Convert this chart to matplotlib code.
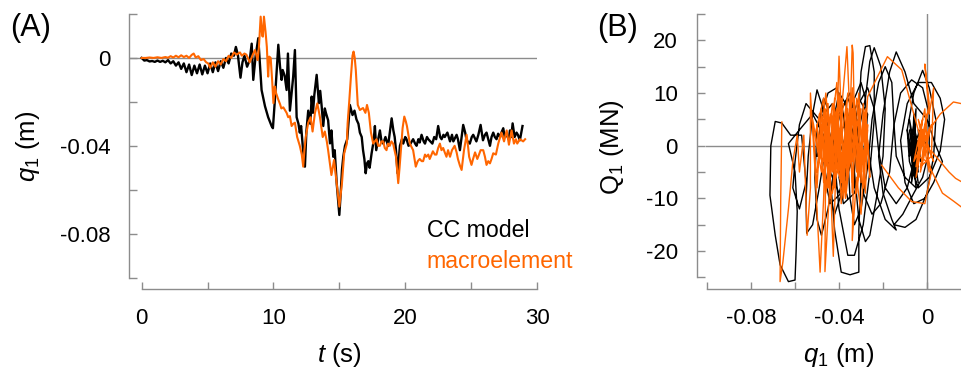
import numpy as np
import matplotlib.pyplot as plt

plt.rcParams['font.family'] = ['Liberation Sans', 'DejaVu Sans']
plt.rcParams['mathtext.fontset'] = 'custom'
plt.rcParams['mathtext.rm'] = 'Liberation Sans'
plt.rcParams['mathtext.it'] = 'Liberation Sans:italic'

ORANGE = '#ff6600'
GREY = '#8c8c8c'

# (A) time histories of q1
cc_t = [0.0, 0.2, 0.4, 0.6, 0.8, 1.0, 1.2, 1.4, 1.6, 1.8, 2.0, 2.2, 2.4, 2.6, 2.8,
        3.0, 3.2, 3.4, 3.6, 3.8, 4.0, 4.2, 4.4, 4.6, 4.8, 5.0, 5.2, 5.4, 5.6, 5.8,
        6.0, 6.2, 6.4, 6.6, 6.8, 7.0, 7.15, 7.3, 7.5, 7.65, 7.8, 8.0, 8.2, 8.35, 8.47,
        8.65, 8.85, 9.1, 9.36, 9.6, 9.86, 9.96, 10.1, 10.37, 10.5, 10.62, 10.7, 10.85,
        11.0, 11.1, 11.25, 11.4, 11.5, 11.63, 11.76, 11.9, 12.0, 12.1, 12.25, 12.39,
        12.5, 12.64, 12.8, 12.9, 13.0, 13.1, 13.28, 13.45, 13.55, 13.66, 13.78, 13.9,
        13.98, 14.15, 14.29, 14.4, 14.54, 14.65, 14.8, 15.0, 15.1, 15.2, 15.3, 15.43,
        15.6, 15.8, 16.0, 16.15, 16.3, 16.45, 16.56, 16.7, 16.8, 16.9, 17.0, 17.1,
        17.2, 17.3, 17.45, 17.6, 17.7, 17.8, 17.95, 18.08, 18.2, 18.33, 18.5, 18.6,
        18.7, 18.85, 18.97, 19.1, 19.2, 19.3, 19.42, 19.6, 19.75, 19.85, 20.0, 20.1,
        20.25, 20.35, 20.5, 20.6, 20.75, 20.86, 21.0, 21.1, 21.24, 21.4, 21.5, 21.65,
        21.75, 21.9, 22.06, 22.2, 22.35, 22.5, 22.65, 22.76, 22.9, 23.0, 23.2, 23.4,
        23.55, 23.65, 23.9, 24.0, 24.15, 24.4, 24.55, 24.66, 24.9, 25.05, 25.16, 25.4,
        25.55, 25.72, 25.9, 26.05, 26.17, 26.3, 26.43, 26.55, 26.68, 26.8, 26.93,
        27.05, 27.2, 27.3, 27.44, 27.55, 27.7, 27.85, 27.95, 28.05, 28.15, 28.3,
        28.45, 28.55, 28.7, 28.9]
cc_q = [0.0, -0.0012, -0.001, -0.0016, -0.0014, -0.0018, -0.0012, -0.0018, -0.0013,
        -0.002, -0.001, -0.0025, -0.0015, -0.0035, -0.002, -0.005, -0.0025, -0.0065,
        -0.003, -0.0078, -0.0035, -0.007, -0.003, -0.0075, -0.0035, -0.007, -0.0025,
        -0.0065, -0.002, -0.006, -0.0015, -0.0045, 0.0, -0.0025, 0.002, 0.001, 0.005,
        0.0015, -0.009, -0.002, 0.001, -0.004, -0.001, 0.0065, -0.01, 0.001, 0.009,
        -0.0146, -0.022, -0.027, -0.031, -0.032, -0.02, 0.006, -0.004, -0.01, -0.0055,
        -0.008, -0.0146, 0.002, -0.024, -0.015, -0.0085, 0.0036, -0.027, -0.03, -0.034,
        -0.031, -0.042, -0.0495, -0.0335, -0.024, -0.03, -0.0176, -0.025, -0.017,
        -0.0077, -0.0206, -0.015, -0.022, -0.031, -0.023, -0.025, -0.0284, -0.0389,
        -0.033, -0.045, -0.042, -0.057, -0.0715, -0.062, -0.051, -0.045, -0.04,
        -0.037, -0.0214, -0.026, -0.024, -0.028, -0.03, -0.034, -0.036, -0.042,
        -0.046, -0.0525, -0.048, -0.047, -0.05, -0.0434, -0.038, -0.031, -0.042,
        -0.037, -0.033, -0.038, -0.039, -0.036, -0.038, -0.04, -0.033, -0.0275,
        -0.033, -0.036, -0.042, -0.0525, -0.04, -0.037, -0.039, -0.036, -0.037,
        -0.04, -0.0395, -0.038, -0.037, -0.039, -0.04, -0.037, -0.0385, -0.035,
        -0.038, -0.039, -0.036, -0.037, -0.038, -0.039, -0.036, -0.037, -0.031,
        -0.036, -0.037, -0.035, -0.036, -0.034, -0.038, -0.035, -0.038, -0.035,
        -0.037, -0.042, -0.0305, -0.034, -0.0375, -0.039, -0.036, -0.035, -0.038,
        -0.035, -0.0305, -0.0375, -0.035, -0.034, -0.037, -0.04, -0.036, -0.034,
        -0.036, -0.037, -0.0345, -0.036, -0.034, -0.032, -0.036, -0.035, -0.037,
        -0.033, -0.036, -0.0298, -0.036, -0.034, -0.035, -0.0375, -0.031]

me_t = [0.0, 0.3, 0.6, 0.9, 1.2, 1.5, 1.8, 2.0, 2.2, 2.4, 2.6, 2.8, 3.0, 3.2, 3.4,
        3.6, 3.8, 3.95, 4.1, 4.3, 4.5, 4.7, 4.9, 5.05, 5.2, 5.4, 5.6, 5.8, 6.0, 6.2,
        6.4, 6.6, 6.8, 7.0, 7.2, 7.46, 7.6, 7.8, 7.95, 8.2, 8.4, 8.6, 8.8, 8.9, 9.03,
        9.15, 9.2, 9.28, 9.4, 9.5, 9.6, 9.68, 9.79, 9.9, 10.0, 10.1, 10.2, 10.37, 10.5,
        10.6, 10.75, 10.87, 11.0, 11.12, 11.25, 11.38, 11.5, 11.63, 11.8, 12.0, 12.15,
        12.26, 12.35, 12.45, 12.64, 12.82, 12.97, 13.15, 13.33, 13.53, 13.74, 13.9,
        14.05, 14.15, 14.4, 14.6, 14.85, 15.0, 15.2, 15.37, 15.57, 15.63, 15.75, 15.88,
        16.0, 16.08, 16.17, 16.25, 16.4, 16.56, 16.8, 16.98, 17.1, 17.24, 17.4, 17.57,
        17.7, 17.82, 17.95, 18.08, 18.2, 18.33, 18.45, 18.58, 18.7, 18.83, 18.95,
        19.08, 19.3, 19.47, 19.57, 19.67, 19.8, 19.93, 20.05, 20.13, 20.35, 20.6,
        20.8, 20.95, 21.1, 21.25, 21.36, 21.5, 21.6, 21.75, 21.86, 22.0, 22.1, 22.25,
        22.37, 22.5, 22.63, 22.75, 22.88, 23.0, 23.13, 23.25, 23.4, 23.55, 23.75,
        23.9, 24.0, 24.15, 24.28, 24.46, 24.66, 24.78, 24.85, 25.03, 25.15, 25.3,
        25.47, 25.6, 25.72, 25.92, 26.05, 26.17, 26.3, 26.43, 26.55, 26.68, 26.88,
        27.06, 27.3, 27.5, 27.7, 27.87, 28.07, 28.25, 28.4, 28.5, 28.7, 28.95, 29.1]
me_q = [0.0, 0.0, 0.0002, 0.0, 0.0003, 0.0, 0.0004, 0.0001, 0.0008, 0.0002, 0.001,
        0.0003, 0.0012, 0.0004, 0.001, 0.0, 0.0014, 0.002, 0.0002, 0.0008, -0.001,
        -0.0005, -0.002, -0.0025, -0.0045, -0.002, -0.004, -0.0015, -0.003, -0.0005,
        -0.0015, 0.001, 0.0, 0.0025, 0.0015, 0.0025, 0.001, 0.002, 0.0015, -0.002,
        0.001, 0.0036, -0.001, 0.005, 0.0188, 0.01, 0.0097, 0.0188, 0.012, 0.005,
        -0.0085, 0.0006, 0.0, -0.01, -0.0206, -0.013, -0.016, -0.019, -0.021, -0.023,
        -0.0225, -0.0237, -0.025, -0.027, -0.0265, -0.031, -0.03, -0.0295, -0.036,
        -0.04, -0.044, -0.0495, -0.042, -0.036, -0.0295, -0.027, -0.0335, -0.025,
        -0.0207, -0.027, -0.036, -0.0335, -0.038, -0.042, -0.0533, -0.0465, -0.06,
        -0.0677, -0.057, -0.0434, -0.039, -0.0297, -0.02, -0.0085, 0.001, 0.0029, 0.0,
        -0.0055, -0.0214, -0.0237, -0.0228, -0.025, -0.0214, -0.025, -0.034, -0.039,
        -0.038, -0.037, -0.04, -0.04, -0.038, -0.038, -0.041, -0.042, -0.039, -0.04,
        -0.038, -0.039, -0.045, -0.057, -0.05, -0.042, -0.032, -0.0267, -0.029,
        -0.031, -0.039, -0.042, -0.0495, -0.047, -0.046, -0.047, -0.047, -0.044,
        -0.045, -0.044, -0.046, -0.044, -0.0425, -0.044, -0.044, -0.041, -0.039,
        -0.042, -0.041, -0.043, -0.045, -0.042, -0.045, -0.042, -0.04, -0.043,
        -0.046, -0.049, -0.051, -0.042, -0.035, -0.041, -0.045, -0.0487, -0.046,
        -0.043, -0.046, -0.044, -0.042, -0.042, -0.045, -0.0487, -0.047, -0.048,
        -0.046, -0.0434, -0.044, -0.039, -0.034, -0.038, -0.033, -0.0395, -0.033,
        -0.039, -0.037, -0.039, -0.037, -0.038, -0.037]

# (B) force-displacement loops (q1 in m, Q1 in MN)
cc_loops_zero = [(0.0, 0), (-0.004, 3), (-0.003, -3), (-0.006, 4), (-0.004, -5),
                 (-0.007, 2), (-0.005, -6), (-0.008, 5), (-0.004, -4), (-0.006, 6),
                 (-0.007, -7), (-0.003, 3), (-0.008, -2), (-0.005, 7), (-0.006, -5),
                 (-0.009, 3), (-0.004, -7), (-0.007, 1), (-0.005, -8), (-0.01, -6),
                 (-0.014, -2), (-0.015, 4), (-0.012, 10), (-0.007, 12.5), (-0.002, 11),
                 (0.001, 6), (0.001, -1), (-0.002, -6), (-0.006, -9), (-0.011, -13),
                 (-0.015, -15), (-0.01, -15.5), (-0.005, -14), (0.0, -9), (0.003, -2),
                 (0.004, 5), (0.001, 11), (-0.002, 14.3), (-0.006, 10), (-0.009, 3),
                 (-0.008, -3), (-0.004, -8), (0.001, -6), (0.006, -1), (0.008, 5),
                 (0.006, 9), (0.002, 12), (-0.004, 12), (-0.009, 8), (-0.012, 1),
                 (-0.01, -7), (-0.006, -11), (-0.001, -10), (0.003, -7), (0.007, -3),
                 (0.004, 0), (0.0, 5), (-0.006, 8), (-0.01, 14), (-0.014, 17.8),
                 (-0.017, 14), (-0.02, 6), (-0.022, -2), (-0.02, -9), (-0.016, -14),
                 (-0.014, -16), (-0.019, -14), (-0.024, -8), (-0.027, 0), (-0.028, 9),
                 (-0.026, 16), (-0.024, 18.6), (-0.021, 15), (-0.019, 7), (-0.02, -2),
                 (-0.023, -10), (-0.026, -17), (-0.028, -18.2), (-0.031, -14),
                 (-0.033, -5), (-0.031, 6), (-0.03, 14), (-0.028, 18.8), (-0.026, 19),
                 (-0.024, 14), (-0.024, 5), (-0.026, -5), (-0.029, -15), (-0.033, -20.8),
                 (-0.036, -20.8), (-0.04, -12), (-0.042, -3), (-0.04, 6), (-0.036, 9),
                 (-0.032, 5), (-0.03, -6), (-0.031, -16), (-0.031, -24), (-0.035, -24.5),
                 (-0.039, -24), (-0.042, -16), (-0.044, -6), (-0.043, 4), (-0.04, 10),
                 (-0.037, 8), (-0.034, 2), (-0.033, -8)]
cc_loops_left = [(-0.036, -10), (-0.04, -4), (-0.044, 2), (-0.048, 8), (-0.05, 10.6),
                 (-0.052, 6), (-0.054, -2), (-0.055, -10), (-0.0547, -16.6),
                 (-0.052, -15), (-0.049, -8), (-0.046, 0), (-0.045, 7), (-0.047, 9),
                 (-0.05, 3), (-0.051, -6), (-0.05, -14), (-0.048, -17), (-0.045, -12),
                 (-0.042, -4), (-0.041, 4), (-0.043, 8), (-0.049, 5), (-0.055, 8),
                 (-0.058, 4), (-0.06, -3), (-0.061, -8), (-0.058, -12), (-0.055, -7),
                 (-0.057, 2), (-0.062, 2), (-0.066, 4.3), (-0.069, 4.6), (-0.071, 0),
                 (-0.0714, -9.4), (-0.069, -17), (-0.0668, -22.6), (-0.063, -25.8),
                 (-0.06, -25.5), (-0.0595, -20), (-0.059, -12.5), (-0.06, -5),
                 (-0.063, 0.4), (-0.058, 3), (-0.052, 6), (-0.047, 2), (-0.044, -5),
                 (-0.04, -9), (-0.036, -3), (-0.033, 4), (-0.035, 10), (-0.039, 7),
                 (-0.043, 0), (-0.046, -7), (-0.044, -11), (-0.039, -9), (-0.035, -4),
                 (-0.031, 3), (-0.028, 9), (-0.03, 12), (-0.034, 8), (-0.037, 0),
                 (-0.04, -6), (-0.038, -11), (-0.033, -9), (-0.029, -2), (-0.027, 6),
                 (-0.031, 9), (-0.036, 3), (-0.041, -3), (-0.047, 4), (-0.05, -2)]
cc_loops_mid = [(-0.05, -2), (-0.048, 6), (-0.045, 10), (-0.041, 11), (-0.038, 6),
                (-0.036, -2), (-0.035, -10), (-0.033, -15), (-0.03, -12), (-0.027, -4),
                (-0.025, 5), (-0.022, 12), (-0.019, 15), (-0.016, 12), (-0.015, 4),
                (-0.017, -5), (-0.021, -11), (-0.025, -13), (-0.029, -9), (-0.032, -1),
                (-0.035, 5), (-0.039, 3), (-0.042, -4), (-0.044, -10), (-0.042, -13),
                (-0.038, -8), (-0.035, 0), (-0.031, 8), (-0.027, 11), (-0.024, 7),
                (-0.022, -1), (-0.019, -8), (-0.014, -11), (-0.009, -8), (-0.006, -3),
                (-0.008, 3), (-0.005, -2), (-0.007, -6), (-0.004, 1), (-0.006, -4)]

me_loops_left = [(-0.066, 4.5), (-0.0665, -10), (-0.0668, -25.8), (-0.0655, -22),
                 (-0.063, -12), (-0.061, -3), (-0.059, 2), (-0.058, -5), (-0.056, 2),
                 (-0.0545, -17), (-0.053, -8), (-0.053, 10), (-0.051, -4),
                 (-0.0486, -24), (-0.047, -10), (-0.046, 5), (-0.0464, -23.9),
                 (-0.044, -6), (-0.0426, -21), (-0.041, 3), (-0.04, 17), (-0.039, 6),
                 (-0.0364, 18.8), (-0.035, 5), (-0.034, 19.1), (-0.0336, 17.6),
                 (-0.033, 4), (-0.034, -18), (-0.032, -6), (-0.03, -13), (-0.028, 2)]
me_cluster = [(-0.048, 0), (-0.046, 7), (-0.044, -6), (-0.042, 9), (-0.045, -8),
              (-0.04, 6), (-0.043, -9), (-0.038, 8), (-0.041, -5), (-0.036, 10),
              (-0.039, -7), (-0.047, 5), (-0.044, -10), (-0.035, 4), (-0.037, -8),
              (-0.033, 9), (-0.036, -4), (-0.03, 7), (-0.032, -9), (-0.028, 5),
              (-0.031, -6), (-0.034, 11), (-0.037, -9), (-0.042, 4), (-0.045, -5),
              (-0.049, 6), (-0.047, -7), (-0.043, 8), (-0.039, -6), (-0.035, 6),
              (-0.038, -3), (-0.04, 10), (-0.043, -4), (-0.046, 3), (-0.049, -3),
              (-0.05, 4), (-0.046, -9), (-0.041, 7), (-0.037, -10), (-0.033, 5),
              (-0.029, -8), (-0.027, 3), (-0.03, -4), (-0.034, 7), (-0.038, -6),
              (-0.044, 6), (-0.048, -5), (-0.051, 2), (-0.047, 9), (-0.045, -3),
              (-0.041, 12), (-0.039, -11), (-0.036, 7), (-0.034, -7), (-0.031, 10),
              (-0.029, -5), (-0.027, 9.3), (-0.018, 16.9), (-0.0115, 14.4),
              (-0.006, 6), (-0.002, 0)]
me_cluster2 = [(-0.05, -5), (-0.048, 4), (-0.047, -3), (-0.045, 8), (-0.044, -7),
               (-0.043, 3), (-0.042, -8), (-0.041, 5), (-0.04, -4), (-0.039, 9),
               (-0.038, -8), (-0.037, 4), (-0.036, -6), (-0.035, 8), (-0.034, -9),
               (-0.033, 2), (-0.032, -5), (-0.031, 6), (-0.03, -7), (-0.029, 8),
               (-0.028, -3), (-0.027, 4), (-0.028, -9), (-0.03, 3), (-0.032, 9),
               (-0.034, -3), (-0.036, 5), (-0.038, -10), (-0.04, 2), (-0.042, 7),
               (-0.044, -2), (-0.046, -8), (-0.048, 7), (-0.05, -8), (-0.052, 5),
               (-0.049, -2), (-0.046, 10), (-0.043, -5), (-0.04, 8), (-0.037, -4),
               (-0.034, 10), (-0.031, -3), (-0.028, 7), (-0.026, -6), (-0.027, 1)]
me_loops_zero = [(-0.004, 0), (-0.002, 5), (-0.005, -4), (0.0, 6), (-0.003, -5),
                 (0.002, 4), (-0.006, -3), (-0.001, 7), (0.001, -5), (-0.004, 5),
                 (0.003, -3), (-0.002, 3), (-0.005, -6), (0.001, 8), (-0.001, 15.5),
                 (0.001, 6), (0.003, 11), (0.002, -2), (-0.003, -4), (0.001, 3),
                 (0.006, 6), (0.012, 8.3), (0.0155, 8)]
me_loops_right = [(-0.0206, -3.7), (-0.013, -8), (-0.007, -10.6), (-0.001, -11),
                  (0.002, -5), (-0.002, 2), (-0.004, -2), (0.0, -3), (0.007, -9),
                  (0.012, -10.5), (0.0155, -11.6)]
me_loops_right2 = [(0.002, -1), (0.006, -3), (0.01, -5), (0.013, -6.2), (0.0155, -6.8)]


fig = plt.figure(figsize=(9.61, 3.72), dpi=100)
axA = fig.add_axes([129 / 961, 1 - 289 / 372, 408 / 961, 275 / 372])
axB = fig.add_axes([696.7 / 961, 1 - 289 / 372, 264.3 / 961, 275 / 372])

for ax in (axA, axB):
    for s in ('top', 'right'):
        ax.spines[s].set_visible(False)
    for s in ('left', 'bottom'):
        ax.spines[s].set_color(GREY)
        ax.spines[s].set_linewidth(1.0)
    ax.tick_params(which='both', direction='in', length=5.4, width=1.0,
                   color=GREY, labelsize=16, pad=13.5, labelcolor='black')
    ax.patch.set_alpha(0)

# ---- (A)
axA.axhline(0, color=GREY, lw=1.0, zorder=1)
axA.plot(cc_t, cc_q, color='black', lw=1.7, zorder=2)
axA.plot(me_t, me_q, color=ORANGE, lw=1.5, zorder=3)
axA.set_xlim(-0.96, 30)
axA.set_ylim(-0.1052, 0.02)
axA.spines['left'].set_bounds(-0.1, 0.02)
axA.spines['bottom'].set_bounds(0, 30)
axA.set_xticks([0, 10, 20, 30])
axA.set_xticks([5, 15, 25], minor=True)
axA.set_yticks([-0.08, -0.04, 0], ['-0.08', '-0.04', '0'])
axA.set_yticks([-0.1, -0.06, -0.02, 0.02], minor=True)
axA.set_xlabel('$t$ (s)', fontsize=18.5, va='center')
axA.xaxis.set_label_coords(0.515, -0.24)
axA.set_ylabel('$q_1$ (m)', fontsize=18.5, va='center')
axA.yaxis.set_label_coords(-0.2475, 0.52)
axA.text(0.730, 0.212, 'CC model', transform=axA.transAxes, fontsize=16.7,
         color='black', va='center', ha='left')
axA.text(0.730, 0.0993, 'macroelement', transform=axA.transAxes, fontsize=16.7,
         color=ORANGE, va='center', ha='left')

# ---- (B)
axB.axhline(0, xmin=0.035, color=GREY, lw=1.0, zorder=1)
axB.axvline(0, color=GREY, lw=1.0, zorder=1)
for seg in (cc_loops_zero, cc_loops_left, cc_loops_mid):
    q, Q = zip(*seg)
    axB.plot(q, Q, color='black', lw=1.0, zorder=2)
for seg in (me_loops_left, me_cluster, me_cluster2, me_loops_zero,
            me_loops_right, me_loops_right2):
    q, Q = zip(*seg)
    axB.plot(q, Q, color=ORANGE, lw=1.0, zorder=3)
axB.set_xlim(-0.1047, 0.01545)
axB.set_ylim(-27.2, 25)
axB.spines['left'].set_bounds(-25, 25)
axB.spines['bottom'].set_bounds(-0.1, 0.01545)
axB.set_xticks([-0.08, -0.04, 0], ['-0.08', '-0.04', '0'])
axB.set_xticks([-0.1, -0.06, -0.02], minor=True)
axB.set_yticks([-20, -10, 0, 10, 20], ['-20', '-10', '0', '10', '20'])
axB.set_yticks([-25, -15, -5, 5, 15, 25], minor=True)
axB.set_xlabel('$q_1$ (m)', fontsize=18.5, va='center')
axB.xaxis.set_label_coords(0.538, -0.24)
axB.set_ylabel('Q$_1$ (MN)', fontsize=18.5, va='center')
axB.yaxis.set_label_coords(-0.3216, 0.517)

fig.text(10 / 961, 1 - 28 / 372, '(A)', fontsize=22, va='center', ha='left')
fig.text(597 / 961, 1 - 28 / 372, '(B)', fontsize=22, va='center', ha='left')

fig.savefig('out.png', dpi=100)
